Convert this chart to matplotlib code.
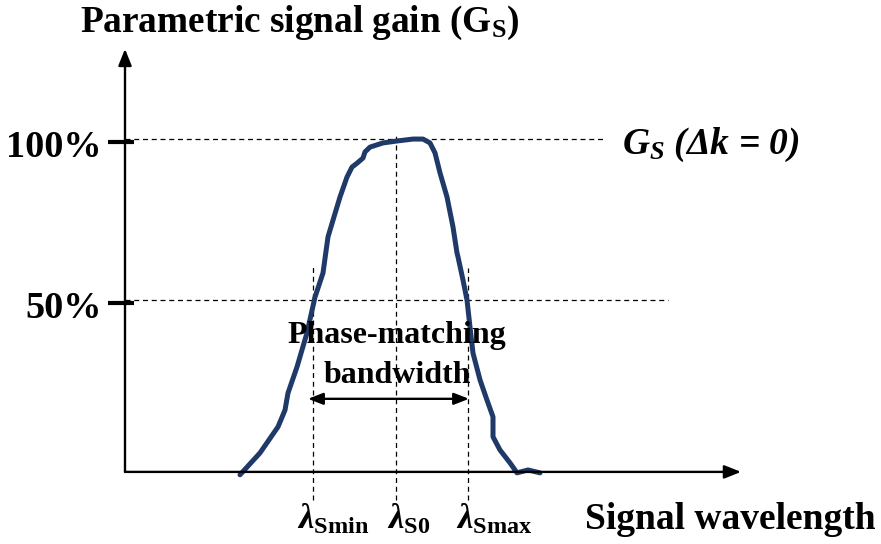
import matplotlib
matplotlib.use("Agg")
import matplotlib.pyplot as plt

plt.rcParams["font.family"] = ["Liberation Serif", "DejaVu Serif"]
plt.rcParams["mathtext.fontset"] = "custom"
plt.rcParams["mathtext.rm"] = "Liberation Serif:bold"
plt.rcParams["mathtext.bf"] = "Liberation Serif:bold"
plt.rcParams["mathtext.it"] = "Liberation Serif:bold:italic"

# Sketched gain curve: signal wavelength (arb. units) vs gain (%)
wavelength = [11.5, 13.5, 15.3, 16.0, 16.3, 17.2, 18.2, 19.0, 19.8, 20.3, 20.8,
              21.5, 22.2, 22.7, 23.2, 23.8, 24.0, 24.5, 25.8, 27.2, 28.8, 29.8,
              30.5, 31.0, 31.5, 32.2, 32.8, 33.2, 33.3, 33.8, 34.2, 34.5, 34.8,
              35.5, 36.2, 36.8, 36.8, 37.5, 38.5, 39.2, 40.3, 41.5]
gain = [-4.3, 2.5, 10.6, 15.8, 21.1, 29.2, 39.8, 50.9, 58.4, 69.6, 74.8,
        82.0, 88.2, 91.3, 92.5, 94.1, 96.0, 97.5, 98.8, 99.4, 100.0, 100.0,
        98.8, 95.7, 89.5, 82.0, 72.7, 64.6, 63.4, 56.2, 50.0, 41.6, 33.5,
        25.2, 18.9, 13.7, 7.5, 3.4, -0.6, -3.7, -2.8, -3.7]

gain_levels = [100, 50]
gain_labels = ["100%", "50%"]

lam_min, lam_0, lam_max = 18.8, 27.1, 34.3
lam_labels = [r"$\lambda_{\mathrm{Smin}}$", r"$\lambda_{\mathrm{S0}}$", r"$\lambda_{\mathrm{Smax}}$"]

fig = plt.figure(figsize=(8.81, 5.44), dpi=100)
ax = fig.add_axes([0, 0, 1, 1])
ax.set_xlim(-12.5, 75.6)
ax.set_ylim(-25.8, 143.2)
ax.axis("off")

x0, y0 = 0.0, -3.4  # origin of the drawn axes

# Axes with arrow heads
ax.annotate("", xy=(x0, 128.0), xytext=(x0, y0),
            arrowprops=dict(arrowstyle="-|>,head_length=1.0,head_width=0.4",
                            lw=1.7, color="black", shrinkA=0, shrinkB=0))
ax.annotate("", xy=(61.6, y0), xytext=(x0, y0),
            arrowprops=dict(arrowstyle="-|>,head_length=1.0,head_width=0.4",
                            lw=1.7, color="black", shrinkA=0, shrinkB=0))

dash = dict(color="black", lw=0.9, linestyle=(0, (4, 3)))

# Reference levels
ax.plot([x0, 48.0], [gain_levels[0]] * 2, **dash)
ax.plot([x0, 54.3], [gain_levels[1]] * 2, **dash)
for lvl, lab in zip(gain_levels, gain_labels):
    ax.plot([-1.7, 0.9], [lvl - 1.0] * 2, color="black", lw=3.0, solid_capstyle="butt")
    ax.text(-2.3, lvl - 2.5, lab, ha="right", va="center", fontsize=27.5, fontweight="bold")

# Wavelength markers
ax.plot([lam_min] * 2, [-12.1, 60.9], **dash)
ax.plot([lam_0] * 2, [-12.1, 101.9], **dash)
ax.plot([lam_max] * 2, [-12.1, 59.9], **dash)

# Gain curve
ax.plot(wavelength, gain, color="#1f3a68", lw=3.6, solid_joinstyle="round",
        solid_capstyle="round")

# Bandwidth arrow
ax.annotate("", xy=(lam_min - 0.5, 19.3), xytext=(lam_max + 0.1, 19.3),
            arrowprops=dict(arrowstyle="<|-|>,head_length=0.9,head_width=0.35",
                            lw=1.7, color="black", shrinkA=0, shrinkB=0))
ax.text(27.2, 39.1, "Phase-matching", ha="center", va="center", fontsize=23, fontweight="bold")
ax.text(27.2, 26.7, "bandwidth", ha="center", va="center", fontsize=23, fontweight="bold")

# Texts
ax.text(-4.5, 136.0, r"Parametric signal gain (G$_\mathrm{S}$)", ha="left", va="center",
        fontsize=26.8, fontweight="bold")
ax.text(49.7, 98.1, r"$G_S$ (Δk = 0)", ha="left", va="center",
        fontsize=27, fontweight="bold", fontstyle="italic")
for xpos, lab in zip([17.2, 26.2, 33.1], lam_labels):
    ax.text(xpos, -18.3, lab, ha="left", va="center", fontsize=25)
ax.text(46.0, -18.3, "Signal wavelength", ha="left", va="center", fontsize=27, fontweight="bold")

fig.savefig("out.png", dpi=100)
